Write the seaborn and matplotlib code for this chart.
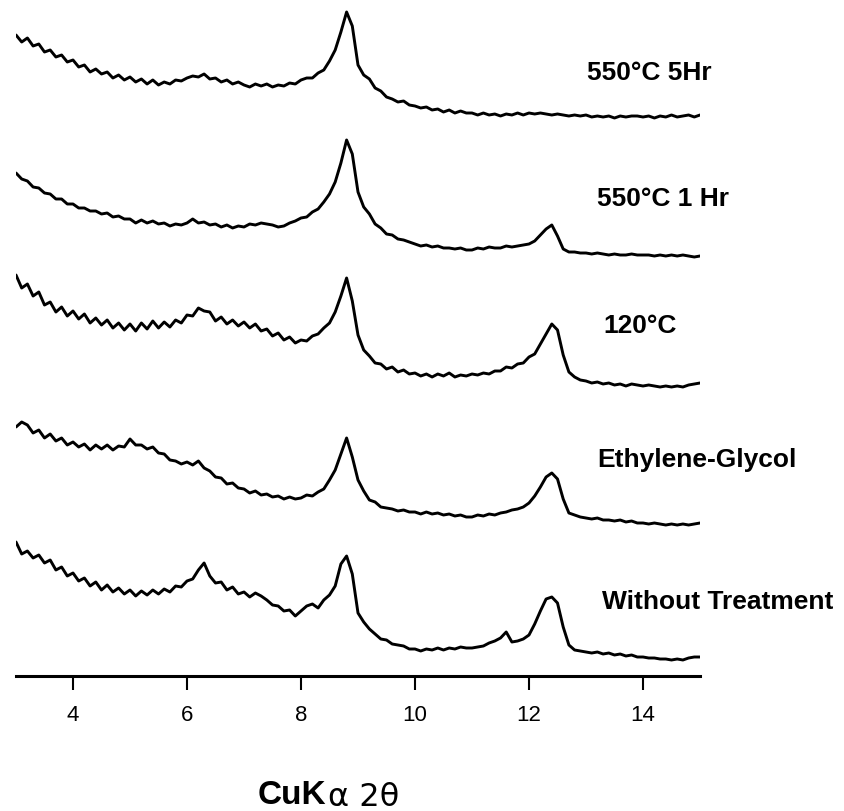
import numpy as np
import pandas as pd
import matplotlib
matplotlib.use("Agg")
import matplotlib.pyplot as plt
import seaborn as sns

# 2-theta scan grid (CuK-alpha), 0.1 deg steps
two_theta = np.round(np.arange(3.0, 15.01, 0.1), 1)

# stacked intensities (a.u.)
heat_550_5h = [
    641, 634, 638, 630, 632, 624, 626, 619, 621, 614,
    616, 609, 611, 604, 607, 602, 604, 598, 601, 596,
    599, 594, 597, 592, 596, 591, 594, 592, 596, 595,
    598, 600, 599, 602, 597, 598, 594, 596, 592, 594,
    591, 589, 592, 590, 592, 589, 591, 590, 593, 592,
    596, 598, 598, 603, 606, 615, 626, 644, 664, 650,
    611, 601, 597, 588, 585, 579, 577, 574, 575, 571,
    570, 568, 569, 566, 567, 564, 566, 563, 565, 563,
    563, 561, 563, 561, 562, 560, 562, 561, 563, 561,
    563, 562, 563, 562, 561, 562, 561, 560, 561, 560,
    561, 559, 560, 559, 560, 558, 560, 559, 560, 560,
    559, 560, 558, 560, 559, 561, 559, 560, 561, 559,
    561,
]
heat_550_1h = [
    503, 497, 495, 489, 488, 483, 482, 477, 477, 472,
    472, 468, 468, 465, 465, 462, 463, 459, 460, 457,
    457, 453, 456, 453, 455, 452, 453, 450, 452, 451,
    453, 457, 453, 454, 451, 452, 449, 451, 448, 450,
    449, 452, 451, 453, 452, 451, 449, 450, 453, 455,
    458, 459, 464, 467, 474, 482, 494, 513, 536, 522,
    484, 469, 462, 452, 448, 442, 441, 437, 436, 434,
    432, 430, 431, 429, 430, 428, 428, 427, 428, 426,
    426, 428, 427, 429, 428, 428, 430, 429, 430, 431,
    432, 435, 441, 447, 451, 440, 427, 424, 424, 423,
    423, 422, 423, 422, 421, 422, 421, 421, 422, 421,
    421, 421, 420, 421, 420, 421, 420, 421, 420, 419,
    420,
]
dried_120 = [
    401, 388, 392, 380, 384, 371, 374, 364, 369, 360,
    365, 357, 362, 353, 358, 351, 356, 348, 353, 346,
    352, 345, 353, 347, 355, 348, 354, 349, 356, 353,
    361, 360, 368, 365, 364, 355, 359, 352, 356, 350,
    354, 348, 352, 345, 347, 340, 343, 336, 339, 333,
    336, 335, 340, 342, 348, 353, 364, 380, 398, 375,
    341, 326, 320, 313, 312, 307, 309, 304, 306, 302,
    303, 300, 302, 299, 302, 300, 303, 299, 301, 300,
    302, 301, 303, 302, 305, 305, 309, 308, 312, 313,
    319, 322, 332, 342, 352, 346, 321, 304, 299, 296,
    295, 293, 294, 292, 293, 291, 292, 290, 292, 291,
    290, 291, 290, 289, 290, 289, 290, 289, 291, 292,
    293,
]
glycol = [
    249, 254, 251, 243, 246, 238, 242, 235, 238, 231,
    234, 229, 232, 226, 231, 227, 231, 226, 230, 229,
    237, 231, 231, 227, 229, 223, 222, 216, 215, 212,
    214, 211, 215, 208, 205, 199, 198, 192, 193, 188,
    187, 183, 185, 181, 182, 179, 180, 177, 179, 177,
    178, 181, 180, 184, 187, 196, 206, 222, 238, 219,
    196, 185, 176, 174, 169, 168, 167, 165, 166, 164,
    164, 162, 164, 162, 163, 161, 162, 160, 161, 159,
    159, 161, 160, 162, 161, 163, 164, 166, 167, 169,
    173, 180, 189, 199, 203, 197, 177, 163, 161, 159,
    158, 157, 158, 156, 156, 155, 156, 154, 155, 153,
    153, 152, 153, 152, 151, 152, 151, 152, 151, 152,
    153,
]
untreated = [
    134, 122, 125, 118, 121, 113, 116, 106, 109, 100,
    103, 95, 98, 90, 94, 86, 91, 84, 88, 82,
    86, 80, 85, 81, 86, 82, 87, 84, 90, 89,
    95, 97, 106, 113, 100, 93, 94, 86, 89, 82,
    84, 79, 83, 80, 76, 71, 70, 65, 66, 60,
    65, 70, 72, 68, 76, 81, 90, 112, 120, 102,
    63, 54, 47, 42, 37, 36, 32, 31, 30, 27,
    27, 25, 27, 26, 28, 26, 28, 27, 29, 28,
    28, 29, 30, 33, 35, 38, 44, 34, 35, 37,
    41, 52, 65, 77, 79, 73, 49, 31, 26, 25,
    24, 23, 24, 22, 23, 21, 22, 20, 21, 19,
    19, 18, 18, 17, 17, 16, 17, 16, 18, 19,
    19,
]

curve_names = ["550\u00b0C 5Hr", "550\u00b0C 1 Hr", "120\u00b0C",
               "Ethylene-Glycol", "Without Treatment"]
curves = [heat_550_5h, heat_550_1h, dried_120, glycol, untreated]
x_ticks = [4, 6, 8, 10, 12, 14]

sns.set_style("white")
plt.rcParams["font.family"] = ["Liberation Sans", "DejaVu Sans"]
plt.rcParams["text.color"] = "black"
plt.rcParams["xtick.color"] = "black"

W, H = 845, 811
fig = plt.figure(figsize=(W / 100, H / 100), dpi=100)
ax = fig.add_axes([16 / W, 135 / H, 684 / W, 676 / H])

for vals in curves:
    sns.lineplot(x=two_theta, y=vals, color="black", linewidth=2.1, ax=ax)

ax.set_xlim(3, 15)
ax.set_ylim(0, 676)
ax.set_yticks([])
ax.set_xticks(x_ticks)
ax.set_xticklabels([str(t) for t in x_ticks], fontsize=16, color="black")
ax.tick_params(axis="x", direction="out", length=10, width=1.5, pad=11,
               bottom=True, colors="black")
for s in ["left", "right", "top"]:
    ax.spines[s].set_visible(False)
ax.spines["bottom"].set_linewidth(2.2)
ax.spines["bottom"].set_color("black")
ax.set_xlabel("")
ax.set_ylabel("")

# curve labels (left x, centre y in pixels)
label_pos = [(587, 73), (597, 199), (603, 326), (597, 460), (602, 602)]
for name, (px, py) in zip(curve_names, label_pos):
    fig.text(px / W, 1 - py / H, name, fontsize=19, fontweight="bold",
             color="black", ha="left", va="center")

# x axis title
fig.text(326 / W, 1 - 795 / H, "CuK", fontsize=24, fontweight="bold",
         color="black", ha="right", va="center")
fig.text(328 / W, 1 - 797 / H, "\u03b1 2\u03b8", fontsize=23,
         family=["DejaVu Sans"], color="black", ha="left", va="center")

fig.savefig("out.png", dpi=100)
